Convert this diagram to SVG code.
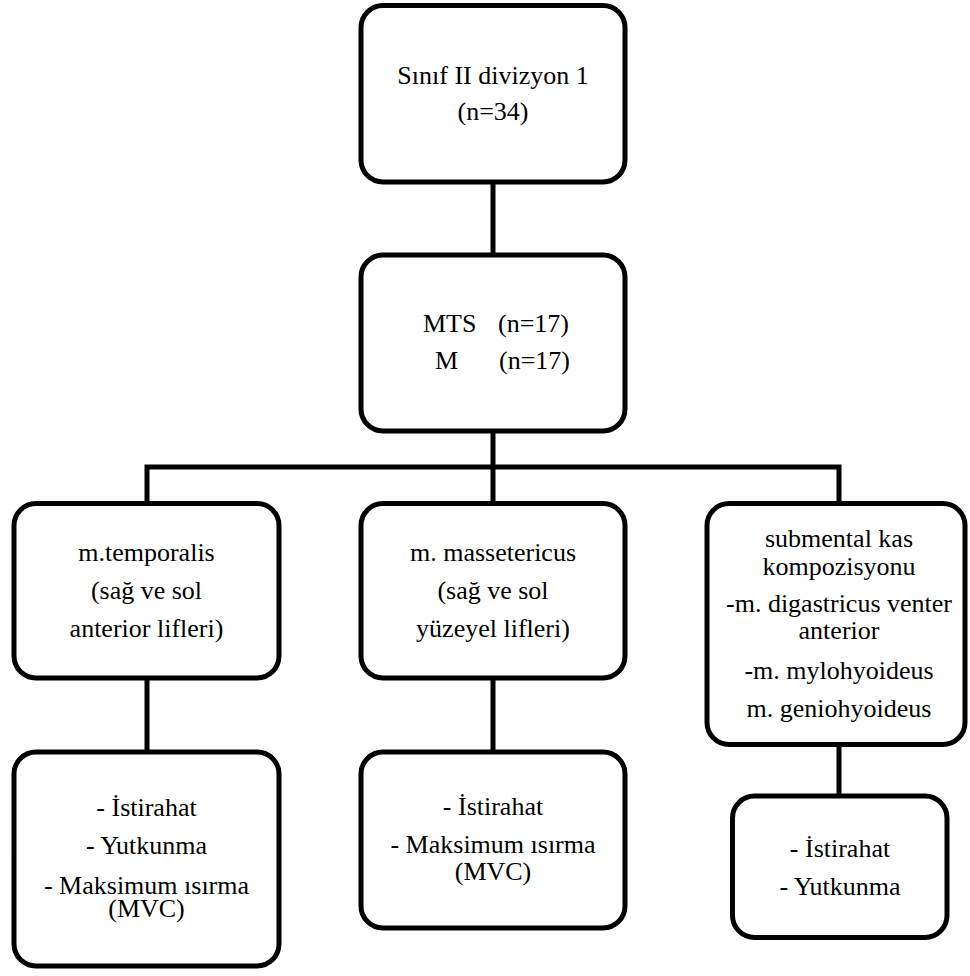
<svg xmlns="http://www.w3.org/2000/svg" width="970" height="976" viewBox="0 0 970 976">
<style>
.box{fill:#fff;stroke:#000;stroke-width:5}
.con{fill:none;stroke:#000;stroke-width:5;stroke-linejoin:miter}
text{font-family:"Liberation Serif","Times New Roman",serif;font-size:26px;fill:#000}
.c{text-anchor:middle}
</style>
<rect width="970" height="976" fill="#fff"/>
<g id="connectors">
<line class="con" x1="493" y1="182" x2="493" y2="255"/>
<line class="con" x1="493" y1="431" x2="493" y2="503.5"/>
<polyline class="con" points="147,503.5 147,467 839,467 839,503.5"/>
<line class="con" x1="147" y1="678" x2="147" y2="752"/>
<line class="con" x1="493" y1="678" x2="493" y2="752"/>
<line class="con" x1="839" y1="744.5" x2="839" y2="796"/>
</g>
<g id="root">
<rect class="box" x="361" y="5.5" width="264" height="176.5" rx="22"/>
<text class="c" x="493" y="84">Sınıf II divizyon  1</text>
<text class="c" x="493" y="120">(n=34)</text>
</g>
<g id="groups">
<rect class="box" x="361" y="255" width="264" height="176" rx="22"/>
<text y="332"><tspan x="423">MTS</tspan><tspan x="498">(n=17)</tspan></text>
<text y="369"><tspan x="435">M</tspan><tspan x="499">(n=17)</tspan></text>
</g>
<g id="temporalis">
<rect class="box" x="14" y="503.5" width="265" height="174.5" rx="22"/>
<text class="c" x="146.5" y="561">m.temporalis</text>
<text class="c" x="146.5" y="599">(sağ ve sol</text>
<text class="c" x="146.5" y="637">anterior lifleri)</text>
</g>
<g id="massetericus">
<rect class="box" x="361" y="503.5" width="264" height="174.5" rx="22"/>
<text class="c" x="493" y="561">m. massetericus</text>
<text class="c" x="493" y="599">(sağ ve sol</text>
<text class="c" x="493" y="637">yüzeyel lifleri)</text>
</g>
<g id="submental">
<rect class="box" x="707" y="503.5" width="258" height="241" rx="22"/>
<text class="c" x="839" y="547">submental kas</text>
<text class="c" x="839" y="575">kompozisyonu</text>
<text class="c" x="839" y="612">-m. digastricus venter</text>
<text class="c" x="839" y="639">anterior</text>
<text class="c" x="839" y="679">-m. mylohyoideus</text>
<text class="c" x="839" y="717">m. geniohyoideus</text>
</g>
<g id="temporalis-tasks">
<rect class="box" x="14" y="752" width="265" height="214" rx="22"/>
<text class="c" x="146.5" y="816">- İstirahat</text>
<text class="c" x="146.5" y="854">- Yutkunma</text>
<text class="c" x="146.5" y="894">- Maksimum ısırma</text>
<text class="c" x="146.5" y="917">(MVC)</text>
</g>
<g id="massetericus-tasks">
<rect class="box" x="361" y="752" width="264" height="176" rx="22"/>
<text class="c" x="493" y="815">- İstirahat</text>
<text class="c" x="493" y="853">- Maksimum ısırma</text>
<text class="c" x="493" y="880">(MVC)</text>
</g>
<g id="submental-tasks">
<rect class="box" x="732.5" y="796" width="214.5" height="141.5" rx="22"/>
<text class="c" x="840" y="857">-  İstirahat</text>
<text class="c" x="840" y="895">- Yutkunma</text>
</g>
</svg>
